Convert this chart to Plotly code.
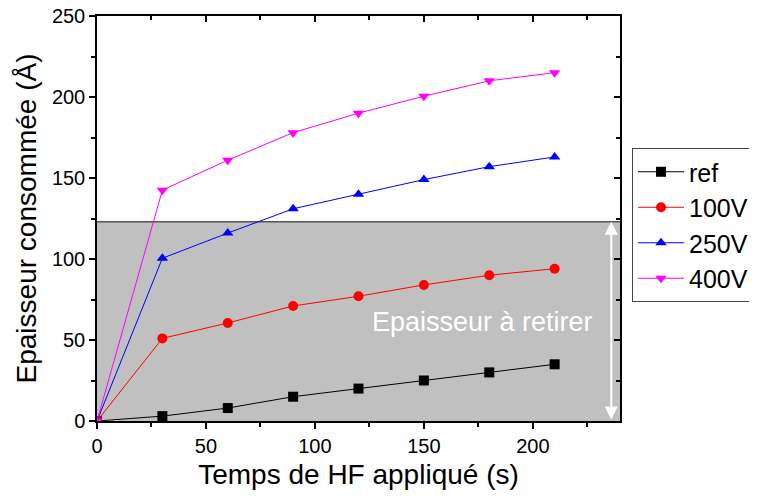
import plotly.graph_objects as go

# data
temps = [0, 30, 60, 90, 120, 150, 180, 210]
ref = [0, 3, 8, 15, 20, 25, 30, 35]
v100 = [0, 51, 60.5, 71, 77, 84, 90, 94]
v250 = [0, 100.5, 116, 131, 140, 149, 157, 163]
v400 = [0, 142.5, 161, 178, 190, 200.5, 210, 215]
series_names = ["ref", "100V", "250V", "400V"]

seuil = 123   # épaisseur à retirer
x_max = 240
y_max = 250

colors = ["black", "red", "blue", "magenta"]
symbols = ["square", "circle", "triangle-up", "triangle-down"]
font = "Liberation Sans, Arial, sans-serif"

fig = go.Figure()
for name, vals, c, s in zip(series_names, [ref, v100, v250, v400], colors, symbols):
    fig.add_trace(go.Scatter(x=temps, y=vals, name=name, mode="lines+markers",
                             line=dict(color=c, width=1),
                             marker=dict(color=c, symbol=s, size=10)))

# invisible trace to carry the mirrored (inside tick) axes
fig.add_trace(go.Scatter(x=[0], y=[0], xaxis="x2", yaxis="y2", showlegend=False,
                         mode="markers", marker=dict(opacity=0), hoverinfo="skip"))

# grey zone + its top edge
fig.add_shape(type="rect", xref="x", yref="y", x0=0, x1=x_max, y0=0, y1=seuil,
              fillcolor="#c0c0c0", line_width=0, layer="below")
fig.add_shape(type="line", xref="x", yref="y", x0=0, x1=x_max, y0=seuil, y1=seuil,
              line=dict(color="#555555", width=1.5), layer="below")

# double-headed white arrow
fig.add_annotation(x=236, y=seuil, ax=236, ay=0, xref="x", yref="y", axref="x", ayref="y",
                   text="", showarrow=True, arrowhead=2, arrowside="end+start",
                   arrowsize=1.3, arrowwidth=2, arrowcolor="white")
fig.add_annotation(x=177, y=61, xref="x", yref="y", text="Epaisseur à retirer",
                   showarrow=False, font=dict(color="white", size=27, family=font))

axis_common = dict(showline=True, linecolor="black", linewidth=1.5, showgrid=False,
                   zeroline=False, automargin=False, ticklabeloverflow="allow",
                   tickfont=dict(size=20, color="black", family=font),
                   ticks="outside", ticklen=6, tickwidth=1.5, tickcolor="black")

# page body has an 8px margin, so the figure is shrunk/shifted to compensate
fig.update_layout(
    width=749, height=491,
    margin=dict(l=89, r=137, t=8, b=78, autoexpand=False),
    paper_bgcolor="white", plot_bgcolor="white",
    font=dict(family=font, color="black"),
    xaxis=dict(range=[0, x_max], dtick=50, tick0=0,
               title=dict(text="Temps de HF appliqué (s)", font=dict(size=28), standoff=9),
               minor=dict(dtick=25, ticks="outside", ticklen=4, tickcolor="black", tickwidth=1.5),
               **axis_common),
    yaxis=dict(range=[0, y_max], dtick=50, tick0=0,
               title=dict(text="Epaisseur consommée (Å)", font=dict(size=28), standoff=7),
               minor=dict(dtick=25, ticks="outside", ticklen=4, tickcolor="black", tickwidth=1.5),
               **axis_common),
    xaxis2=dict(overlaying="x", side="top", range=[0, x_max], dtick=50, tick0=0,
                showline=True, linecolor="black", linewidth=1.5, showgrid=False, zeroline=False,
                ticks="inside", ticklen=6, tickwidth=1.5, tickcolor="black", showticklabels=False,
                automargin=False,
                minor=dict(dtick=25, ticks="inside", ticklen=4, tickcolor="black", tickwidth=1.5)),
    yaxis2=dict(overlaying="y", side="right", range=[0, y_max], dtick=50, tick0=0,
                showline=True, linecolor="black", linewidth=1.5, showgrid=False, zeroline=False,
                ticks="inside", ticklen=6, tickwidth=1.5, tickcolor="black", showticklabels=False,
                automargin=False,
                minor=dict(dtick=25, ticks="inside", ticklen=4, tickcolor="black", tickwidth=1.5)),
    legend=dict(x=1.023, y=0.674, xanchor="left", yanchor="top",
                bordercolor="#444444", borderwidth=1, bgcolor="white",
                font=dict(size=25, family=font, color="black"), itemwidth=46),
    showlegend=True,
)

fig.write_html("out.html")
